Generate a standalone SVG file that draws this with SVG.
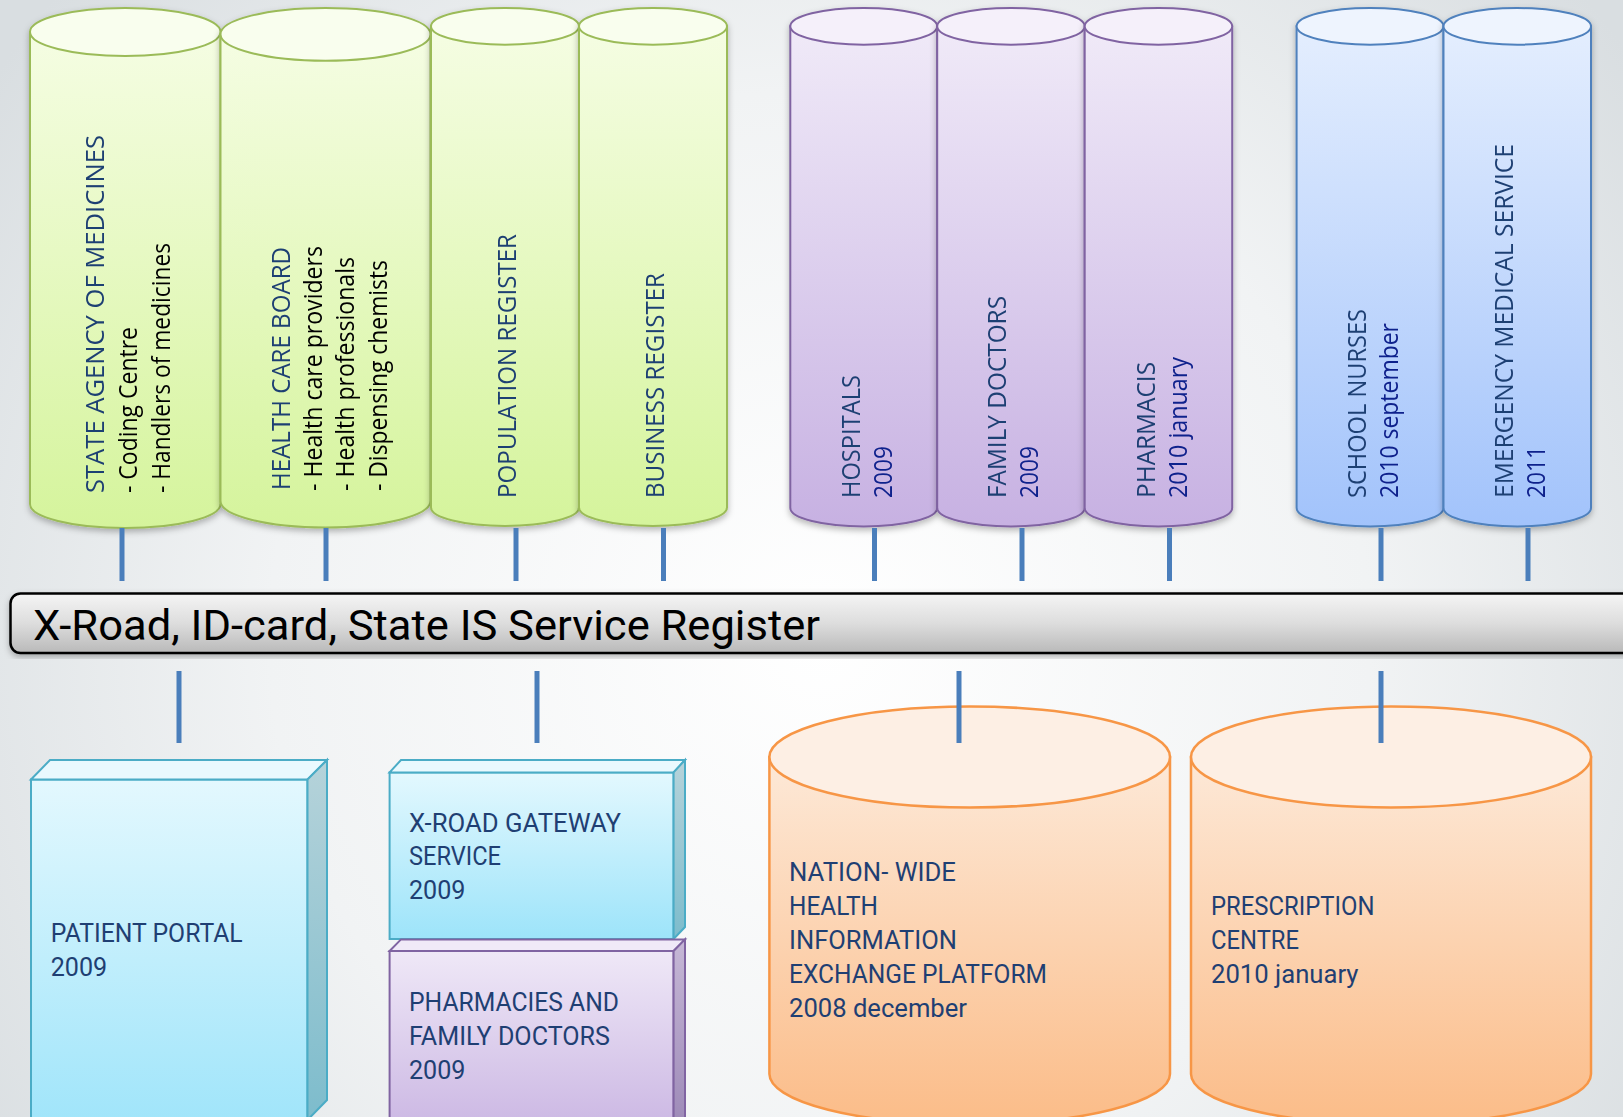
<svg xmlns="http://www.w3.org/2000/svg" width="1623" height="1117" viewBox="0 0 1623 1117">
<defs>
<radialGradient id="bg" cx="820" cy="640" r="1000" gradientUnits="userSpaceOnUse">
<stop offset="0" stop-color="#ffffff"/><stop offset="0.55" stop-color="#f1f3f4"/><stop offset="1" stop-color="#d9dee1"/>
</radialGradient>
<linearGradient id="gGreen" x1="0" y1="0" x2="0" y2="1"><stop offset="0" stop-color="#f5fde3"/><stop offset="1" stop-color="#d5f49c"/></linearGradient>
<linearGradient id="gPurple" x1="0" y1="0" x2="0" y2="1"><stop offset="0" stop-color="#f0eaf8"/><stop offset="1" stop-color="#c7b1e2"/></linearGradient>
<linearGradient id="gBlue" x1="0" y1="0" x2="0" y2="1"><stop offset="0" stop-color="#e4eefe"/><stop offset="1" stop-color="#a2c3fb"/></linearGradient>
<linearGradient id="gOrange" x1="0" y1="0" x2="0" y2="1"><stop offset="0" stop-color="#fde9d8"/><stop offset="1" stop-color="#fbbc88"/></linearGradient>
<linearGradient id="gCyan" x1="0" y1="0" x2="0" y2="1"><stop offset="0" stop-color="#e3f8fe"/><stop offset="1" stop-color="#9de4fa"/></linearGradient>
<linearGradient id="gCyanSide" x1="0" y1="0" x2="0" y2="1"><stop offset="0" stop-color="#b6d3da"/><stop offset="1" stop-color="#7dbccc"/></linearGradient>
<linearGradient id="gLilac" x1="0" y1="0" x2="0" y2="1"><stop offset="0" stop-color="#efe8f7"/><stop offset="1" stop-color="#c9b4e2"/></linearGradient>
<linearGradient id="gLilacSide" x1="0" y1="0" x2="0" y2="1"><stop offset="0" stop-color="#c6b8d6"/><stop offset="1" stop-color="#9a86b5"/></linearGradient>
<linearGradient id="gBar" x1="0" y1="0" x2="0" y2="1"><stop offset="0" stop-color="#f5f5f5"/><stop offset="0.5" stop-color="#dddddd"/><stop offset="1" stop-color="#b9b9b9"/></linearGradient>
<filter id="sh" x="-10%" y="-10%" width="120%" height="120%"><feDropShadow dx="0" dy="3" stdDeviation="3" flood-color="#000" flood-opacity="0.28"/></filter>
</defs>
<style>
.green{fill:url(#gGreen);stroke:#9bbb59;stroke-width:2}
.greenTop{fill:#f9feee;stroke:#9bbb59;stroke-width:2}
.purple{fill:url(#gPurple);stroke:#8064a2;stroke-width:2}
.purpleTop{fill:#f5f0fa;stroke:#8064a2;stroke-width:2}
.blue{fill:url(#gBlue);stroke:#4f81bd;stroke-width:2}
.blueTop{fill:#eef4fe;stroke:#4f81bd;stroke-width:2}
.orange{fill:url(#gOrange);stroke:#f79646;stroke-width:2.5}
.orangeTop{fill:#fdefe4;stroke:#f79646;stroke-width:2.5}
.vt{font-family:"Open Sans","Noto Sans",sans-serif;font-size:25.5px}
.ttl{fill:#1f3f73}
.blk{fill:#000000}
.yr{fill:#10208c}
.lbl{font-family:Roboto,"Liberation Sans",sans-serif;font-size:25px;fill:#1f3f73}
.conn line{stroke:#4a7ebb;stroke-width:5}
</style>
<rect x="0" y="0" width="1623" height="1117" fill="url(#bg)"/>

<g id="state-agency" filter="url(#sh)">
<path class="green" d="M30,32 L30,504 A95.25,24 0 0 0 220.5,504 L220.5,32 Z"/>
<ellipse class="greenTop" cx="125.25" cy="32" rx="95.25" ry="24"/>
<text class="vt ttl" transform="translate(104,493) rotate(-90)" textLength="358" lengthAdjust="spacingAndGlyphs">STATE AGENCY OF MEDICINES</text>
<text class="vt blk" transform="translate(137,493) rotate(-90)" textLength="166" lengthAdjust="spacingAndGlyphs">- Coding Centre</text>
<text class="vt blk" transform="translate(170,493) rotate(-90)" textLength="250" lengthAdjust="spacingAndGlyphs">- Handlers of medicines</text>
</g>

<g id="health-care-board" filter="url(#sh)">
<path class="green" d="M220.5,34.3 L220.5,501 A105,26.4 0 0 0 430.5,501 L430.5,34.3 Z"/>
<ellipse class="greenTop" cx="325.5" cy="34.3" rx="105" ry="26.4"/>
<text class="vt ttl" transform="translate(289.5,490) rotate(-90)" textLength="243" lengthAdjust="spacingAndGlyphs">HEALTH CARE BOARD</text>
<text class="vt blk" transform="translate(321.5,491) rotate(-90)" textLength="245" lengthAdjust="spacingAndGlyphs">- Health care providers</text>
<text class="vt blk" transform="translate(354,491) rotate(-90)" textLength="234" lengthAdjust="spacingAndGlyphs">- Health professionals</text>
<text class="vt blk" transform="translate(386.5,491) rotate(-90)" textLength="231" lengthAdjust="spacingAndGlyphs">- Dispensing chemists</text>
</g>

<g id="population-register" filter="url(#sh)">
<path class="green" d="M431,26.3 L431,507.5 A74,18.4 0 0 0 579,507.5 L579,26.3 Z"/>
<ellipse class="greenTop" cx="505" cy="26.3" rx="74" ry="18.4"/>
<text class="vt ttl" transform="translate(516,498) rotate(-90)" textLength="264" lengthAdjust="spacingAndGlyphs">POPULATION REGISTER</text>
</g>

<g id="business-register" filter="url(#sh)">
<path class="green" d="M579,26.3 L579,507.5 A74,18.4 0 0 0 727,507.5 L727,26.3 Z"/>
<ellipse class="greenTop" cx="653" cy="26.3" rx="74" ry="18.4"/>
<text class="vt ttl" transform="translate(664,498) rotate(-90)" textLength="225" lengthAdjust="spacingAndGlyphs">BUSINESS REGISTER</text>
</g>

<g id="hospitals" filter="url(#sh)">
<path class="purple" d="M790.3,26.3 L790.3,508 A73.45,18.4 0 0 0 937.2,508 L937.2,26.3 Z"/>
<ellipse class="purpleTop" cx="863.75" cy="26.3" rx="73.45" ry="18.4"/>
<text class="vt ttl" transform="translate(860,498) rotate(-90)" textLength="123" lengthAdjust="spacingAndGlyphs">HOSPITALS</text>
<text class="vt yr" transform="translate(892,498) rotate(-90)" textLength="52" lengthAdjust="spacingAndGlyphs">2009</text>
</g>

<g id="family-doctors" filter="url(#sh)">
<path class="purple" d="M937.2,26.3 L937.2,508 A73.75,18.4 0 0 0 1084.7,508 L1084.7,26.3 Z"/>
<ellipse class="purpleTop" cx="1010.95" cy="26.3" rx="73.75" ry="18.4"/>
<text class="vt ttl" transform="translate(1006,498) rotate(-90)" textLength="202" lengthAdjust="spacingAndGlyphs">FAMILY DOCTORS</text>
<text class="vt yr" transform="translate(1038,498) rotate(-90)" textLength="52" lengthAdjust="spacingAndGlyphs">2009</text>
</g>

<g id="pharmacis" filter="url(#sh)">
<path class="purple" d="M1084.7,26.3 L1084.7,508 A73.75,18.4 0 0 0 1232.2,508 L1232.2,26.3 Z"/>
<ellipse class="purpleTop" cx="1158.45" cy="26.3" rx="73.75" ry="18.4"/>
<text class="vt ttl" transform="translate(1154.5,498) rotate(-90)" textLength="136" lengthAdjust="spacingAndGlyphs">PHARMACIS</text>
<text class="vt yr" transform="translate(1186.5,498) rotate(-90)" textLength="141" lengthAdjust="spacingAndGlyphs">2010 january</text>
</g>

<g id="school-nurses" filter="url(#sh)">
<path class="blue" d="M1296.6,26.3 L1296.6,508 A73.45,18.4 0 0 0 1443.5,508 L1443.5,26.3 Z"/>
<ellipse class="blueTop" cx="1370.05" cy="26.3" rx="73.45" ry="18.4"/>
<text class="vt ttl" transform="translate(1365.5,498) rotate(-90)" textLength="189" lengthAdjust="spacingAndGlyphs">SCHOOL NURSES</text>
<text class="vt yr" transform="translate(1397.5,498) rotate(-90)" textLength="175" lengthAdjust="spacingAndGlyphs">2010 september</text>
</g>

<g id="emergency-medical-service" filter="url(#sh)">
<path class="blue" d="M1443.5,26.3 L1443.5,508 A73.75,18.4 0 0 0 1591,508 L1591,26.3 Z"/>
<ellipse class="blueTop" cx="1517.25" cy="26.3" rx="73.75" ry="18.4"/>
<text class="vt ttl" transform="translate(1513,498) rotate(-90)" textLength="354" lengthAdjust="spacingAndGlyphs">EMERGENCY MEDICAL SERVICE</text>
<text class="vt yr" transform="translate(1544.5,498) rotate(-90)" textLength="52" lengthAdjust="spacingAndGlyphs">2011</text>
</g>

<g id="x-road-bar">
<rect x="10.5" y="593.5" width="1640" height="59.5" rx="10" fill="url(#gBar)" stroke="#000" stroke-width="2.5" filter="url(#sh)"/>
<text x="33" y="640" font-family="Roboto,'Liberation Sans',sans-serif" font-size="42" fill="#000" textLength="787" lengthAdjust="spacingAndGlyphs">X-Road, ID-card, State IS Service Register</text>
</g>

<g id="patient-portal">
<rect x="31" y="779.5" width="276.5" height="360" fill="url(#gCyan)" stroke="#4bacc6" stroke-width="2"/>
<polygon points="31,779.5 50,760 327,760 307.5,779.5" fill="#e9f9fe" stroke="#4bacc6" stroke-width="2"/>
<polygon points="307.5,779.5 327,760 327,1100 307.5,1120" fill="url(#gCyanSide)" stroke="#4bacc6" stroke-width="2"/>
<text class="lbl" x="50.7" y="942" textLength="192" lengthAdjust="spacingAndGlyphs">PATIENT PORTAL</text>
<text class="lbl" x="50.7" y="976" textLength="56.5" lengthAdjust="spacingAndGlyphs">2009</text>
</g>

<g id="x-road-gateway">
<rect x="389.6" y="772.4" width="284" height="166.6" fill="url(#gCyan)" stroke="#4bacc6" stroke-width="2"/>
<polygon points="389.6,772.4 401,760 685,760 673.6,772.4" fill="#e9f9fe" stroke="#4bacc6" stroke-width="2"/>
<polygon points="673.6,772.4 685,760 685,927 673.6,939" fill="url(#gCyanSide)" stroke="#4bacc6" stroke-width="2"/>
<text class="lbl" x="409" y="832" textLength="212" lengthAdjust="spacingAndGlyphs">X-ROAD GATEWAY</text>
<text class="lbl" x="409" y="865" textLength="92" lengthAdjust="spacingAndGlyphs">SERVICE</text>
<text class="lbl" x="409" y="899" textLength="56.5" lengthAdjust="spacingAndGlyphs">2009</text>
</g>

<g id="pharmacies-family-doctors">
<rect x="389.6" y="951" width="284" height="190" fill="url(#gLilac)" stroke="#8064a2" stroke-width="2"/>
<polygon points="389.6,951 401,939.4 685,939.4 673.6,951" fill="#f0eaf8" stroke="#8064a2" stroke-width="2"/>
<polygon points="673.6,951 685,939.4 685,1130 673.6,1140" fill="url(#gLilacSide)" stroke="#8064a2" stroke-width="2"/>
<text class="lbl" x="409" y="1011" textLength="210" lengthAdjust="spacingAndGlyphs">PHARMACIES AND</text>
<text class="lbl" x="409" y="1045" textLength="201" lengthAdjust="spacingAndGlyphs">FAMILY DOCTORS</text>
<text class="lbl" x="409" y="1079" textLength="56.5" lengthAdjust="spacingAndGlyphs">2009</text>
</g>

<g id="health-information-exchange">
<path class="orange" d="M769.4,757 L769.4,1074 A200.3,50.5 0 0 0 1170,1074 L1170,757 Z"/>
<ellipse class="orangeTop" cx="969.7" cy="757" rx="200.3" ry="50.5"/>
<text class="lbl" x="789" y="880.5" textLength="167" lengthAdjust="spacingAndGlyphs">NATION- WIDE</text>
<text class="lbl" x="789" y="914.5" textLength="89" lengthAdjust="spacingAndGlyphs">HEALTH</text>
<text class="lbl" x="789" y="948.5" textLength="168" lengthAdjust="spacingAndGlyphs">INFORMATION</text>
<text class="lbl" x="789" y="982.5" textLength="258" lengthAdjust="spacingAndGlyphs">EXCHANGE PLATFORM</text>
<text class="lbl" x="789" y="1016.5" textLength="178" lengthAdjust="spacingAndGlyphs">2008 december</text>
</g>

<g id="prescription-centre">
<path class="orange" d="M1191,757 L1191,1074 A200,50.5 0 0 0 1591,1074 L1591,757 Z"/>
<ellipse class="orangeTop" cx="1391" cy="757" rx="200" ry="50.5"/>
<text class="lbl" x="1211" y="915" textLength="163.5" lengthAdjust="spacingAndGlyphs">PRESCRIPTION</text>
<text class="lbl" x="1211" y="949" textLength="88" lengthAdjust="spacingAndGlyphs">CENTRE</text>
<text class="lbl" x="1211" y="983" textLength="147.5" lengthAdjust="spacingAndGlyphs">2010 january</text>
</g>

<g id="connectors" class="conn">
<line x1="122" y1="528" x2="122" y2="581"/>
<line x1="326" y1="528" x2="326" y2="581"/>
<line x1="516" y1="528" x2="516" y2="581"/>
<line x1="663.5" y1="528" x2="663.5" y2="581"/>
<line x1="874.5" y1="528" x2="874.5" y2="581"/>
<line x1="1022" y1="528" x2="1022" y2="581"/>
<line x1="1169.5" y1="528" x2="1169.5" y2="581"/>
<line x1="1381" y1="528" x2="1381" y2="581"/>
<line x1="1528" y1="528" x2="1528" y2="581"/>
<line x1="179" y1="671" x2="179" y2="743"/>
<line x1="537" y1="671" x2="537" y2="743"/>
<line x1="959" y1="671" x2="959" y2="743"/>
<line x1="1381" y1="671" x2="1381" y2="743"/>
</g>
</svg>
